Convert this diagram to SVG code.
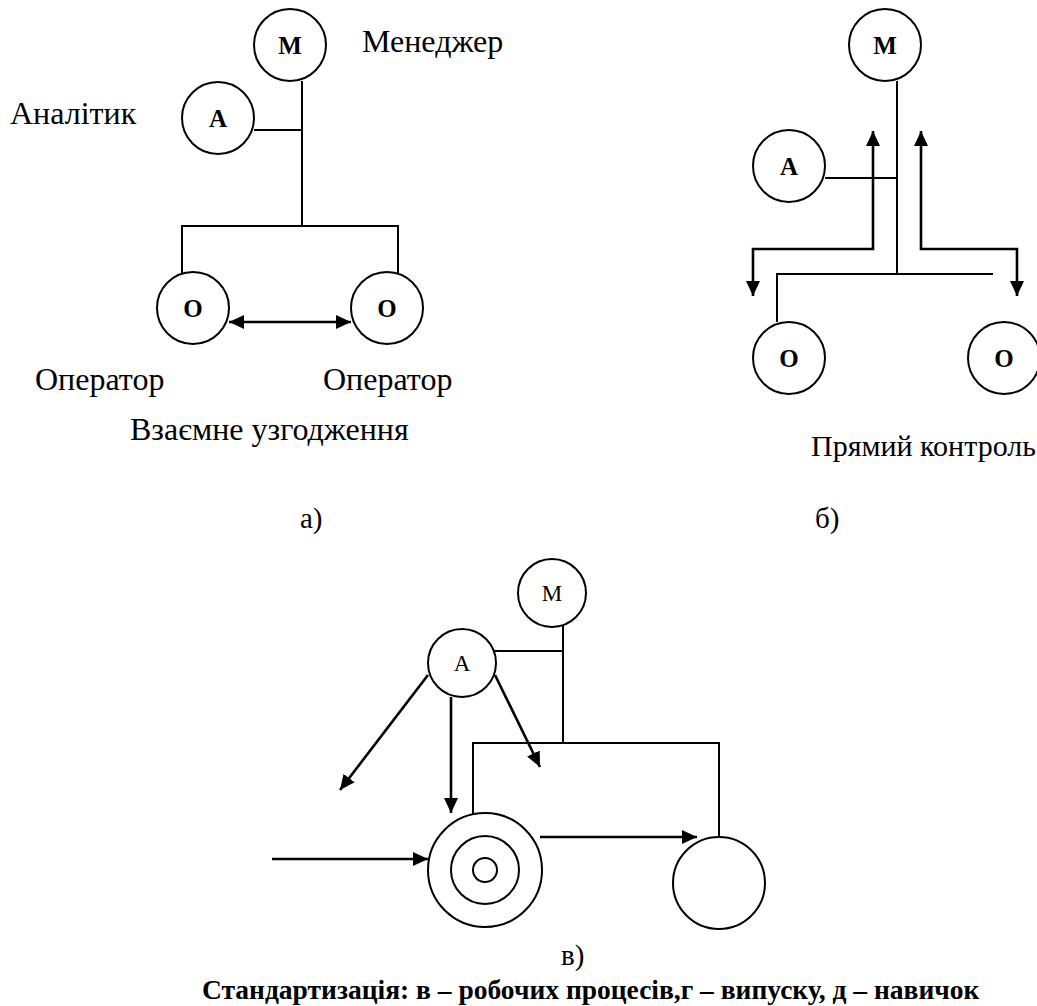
<svg xmlns="http://www.w3.org/2000/svg" width="1037" height="1006" viewBox="0 0 1037 1006">
  <defs>
    <style>
      .node { fill: #fff; stroke: #000; stroke-width: 2; }
      .ln { fill: none; stroke: #000; stroke-width: 2; }
      .arr { fill: none; stroke: #000; stroke-width: 2.6; }
      .lbl { font-family: "Liberation Serif", "Times New Roman", serif; fill: #000; }
      .nb { font-size: 25px; font-weight: bold; text-anchor: middle; }
      .nr { font-size: 23px; text-anchor: middle; }
      .cap { font-size: 32px; }
      .mid { font-size: 30px; }
      .sub { font-size: 29px; }
      .title { font-size: 27.5px; font-weight: bold; }
    </style>
    <marker id="ah" viewBox="0 0 15 14" refX="15" refY="7" markerWidth="15" markerHeight="14" markerUnits="userSpaceOnUse" orient="auto-start-reverse">
      <path d="M0,0 L15,7 L0,14 z" fill="#000"/>
    </marker>
  </defs>

  <!-- а) mutual adjustment -->
  <g id="a-connectors">
    <path class="ln" d="M302,81 V226"/>
    <path class="ln" d="M254,130 H302"/>
    <path class="ln" d="M182,276 V226 H398 V276"/>
    <path class="arr" d="M229,322 H351" marker-start="url(#ah)" marker-end="url(#ah)"/>
  </g>
  <g id="a-manager">
    <circle class="node" cx="290" cy="45" r="36"/>
    <text class="lbl nb" x="290" y="54">М</text>
  </g>
  <g id="a-analyst">
    <circle class="node" cx="218" cy="118" r="36"/>
    <text class="lbl nb" x="218" y="127">А</text>
  </g>
  <g id="a-operator-1">
    <circle class="node" cx="193" cy="308" r="36"/>
    <text class="lbl nb" x="193" y="317">О</text>
  </g>
  <g id="a-operator-2">
    <circle class="node" cx="387" cy="308" r="36"/>
    <text class="lbl nb" x="387" y="317">О</text>
  </g>
  <g id="a-labels">
    <text class="lbl cap" x="362" y="52">Менеджер</text>
    <text class="lbl cap" x="10" y="124">Аналітик</text>
    <text class="lbl cap" x="35" y="390">Оператор</text>
    <text class="lbl cap" x="323" y="390">Оператор</text>
    <text class="lbl cap" x="130" y="440">Взаємне узгодження</text>
    <text class="lbl sub" x="300" y="528">а)</text>
  </g>

  <!-- б) direct supervision -->
  <g id="b-connectors">
    <path class="ln" d="M897,81 V274"/>
    <path class="ln" d="M825,178 H897"/>
    <path class="ln" d="M777,322 V274 H993"/>
    <path class="arr" d="M873,131 V249 H753 V296" marker-start="url(#ah)" marker-end="url(#ah)"/>
    <path class="arr" d="M921,131 V249 H1017 V296" marker-start="url(#ah)" marker-end="url(#ah)"/>
  </g>
  <g id="b-manager">
    <circle class="node" cx="885" cy="45" r="36"/>
    <text class="lbl nb" x="885" y="54">М</text>
  </g>
  <g id="b-analyst">
    <circle class="node" cx="789" cy="166" r="36"/>
    <text class="lbl nb" x="789" y="175">А</text>
  </g>
  <g id="b-operator-1">
    <circle class="node" cx="789" cy="358" r="36"/>
    <text class="lbl nb" x="789" y="367">О</text>
  </g>
  <g id="b-operator-2">
    <circle class="node" cx="1004" cy="358" r="36"/>
    <text class="lbl nb" x="1004" y="367">О</text>
  </g>
  <g id="b-labels">
    <text class="lbl mid" x="811" y="456">Прямий контроль</text>
    <text class="lbl sub" x="815" y="528">б)</text>
  </g>

  <!-- в) standardization -->
  <g id="c-connectors">
    <path class="ln" d="M563,625 V743"/>
    <path class="ln" d="M494,651 H563"/>
    <path class="ln" d="M473,815 V743 H719 V837"/>
    <path class="arr" d="M428,675 L340,790" marker-end="url(#ah)"/>
    <path class="arr" d="M451,697 V813" marker-end="url(#ah)"/>
    <path class="arr" d="M495,675 L540,767" marker-end="url(#ah)"/>
    <path class="arr" d="M540,837 H697" marker-end="url(#ah)"/>
    <path class="arr" d="M272,859 H428" marker-end="url(#ah)"/>
  </g>
  <g id="c-manager">
    <circle class="node" cx="552" cy="593" r="34"/>
    <text class="lbl nr" x="552" y="601">М</text>
  </g>
  <g id="c-analyst">
    <circle class="node" cx="462" cy="663" r="34"/>
    <text class="lbl nr" x="462" y="671">А</text>
  </g>
  <g id="c-operator-std">
    <circle class="node" cx="485" cy="870" r="57"/>
    <circle class="node" cx="485" cy="870" r="34"/>
    <circle class="node" cx="485" cy="870" r="12"/>
  </g>
  <g id="c-operator">
    <circle class="node" cx="719" cy="883" r="46"/>
  </g>
  <g id="c-labels">
    <text class="lbl sub" x="561" y="965">в)</text>
    <text class="lbl title" x="202" y="999">Стандартизація: в – робочих процесів,г – випуску, д – навичок</text>
  </g>
</svg>
